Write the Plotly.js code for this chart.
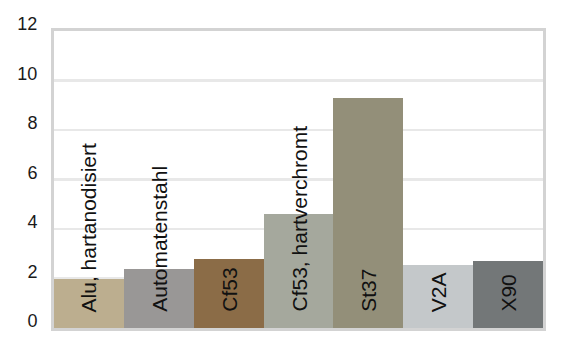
<!DOCTYPE html>
<html>
<head>
<meta charset="utf-8">
<script src="https://cdn.plot.ly/plotly-3.0.1.min.js"></script>
<style>html,body{margin:0;padding:0;background:#fff;}#chart{width:570px;height:358px;}</style>
</head>
<body>
<div id="chart"></div>
<script>
const categories = ["Alu, hartanodisiert", "Automatenstahl", "Cf53", "Cf53, hartverchromt", "St37", "V2A", "X90"];
const values = [2.0, 2.4, 2.8, 4.6, 9.3, 2.55, 2.7];
const barColors = ["#bcae8f", "#999796", "#8b6c47", "#a5a89d", "#938f79", "#c4c8ca", "#737778"];
const yTickVals = [0, 2, 4, 6, 8, 10, 12];

const trace = {
  type: "bar",
  x: categories,
  y: values,
  marker: {color: barColors, line: {width: 0}},
  hoverinfo: "none"
};

const annotations = categories.map((c) => ({
  x: c, y: 0, xref: "x", yref: "y",
  text: c, textangle: -90,
  showarrow: false,
  xanchor: "center", yanchor: "bottom",
  yshift: 14,
  font: {family: "Liberation Sans, Arial, sans-serif", size: 21, color: "#111"}
}));

const layout = {
  width: 570, height: 358,
  margin: {l: 54, r: 27, t: 31, b: 30, pad: 0},
  paper_bgcolor: "#fff", plot_bgcolor: "#fff",
  showlegend: false,
  bargap: 0,
  xaxis: {
    type: "category",
    showticklabels: false,
    showgrid: false, zeroline: false,
    showline: true, mirror: true, linecolor: "#d3d3d3", linewidth: 3,
    ticks: ""
  },
  yaxis: {
    range: [0, 12],
    tickvals: yTickVals,
    ticktext: yTickVals.map(String),
    showgrid: true, gridcolor: "#e8e8e8", gridwidth: 2.5,
    zeroline: false,
    showline: true, mirror: true, linecolor: "#d3d3d3", linewidth: 3,
    ticks: "",
    ticklabelstandoff: 10,
    ticklabelshift: -7,
    tickfont: {family: "Liberation Sans, Arial, sans-serif", size: 18, color: "#1a1a1a"}
  },
  annotations: annotations
};

Plotly.newPlot("chart", [trace], layout, {displayModeBar: false, staticPlot: true});
</script>
</body>
</html>
